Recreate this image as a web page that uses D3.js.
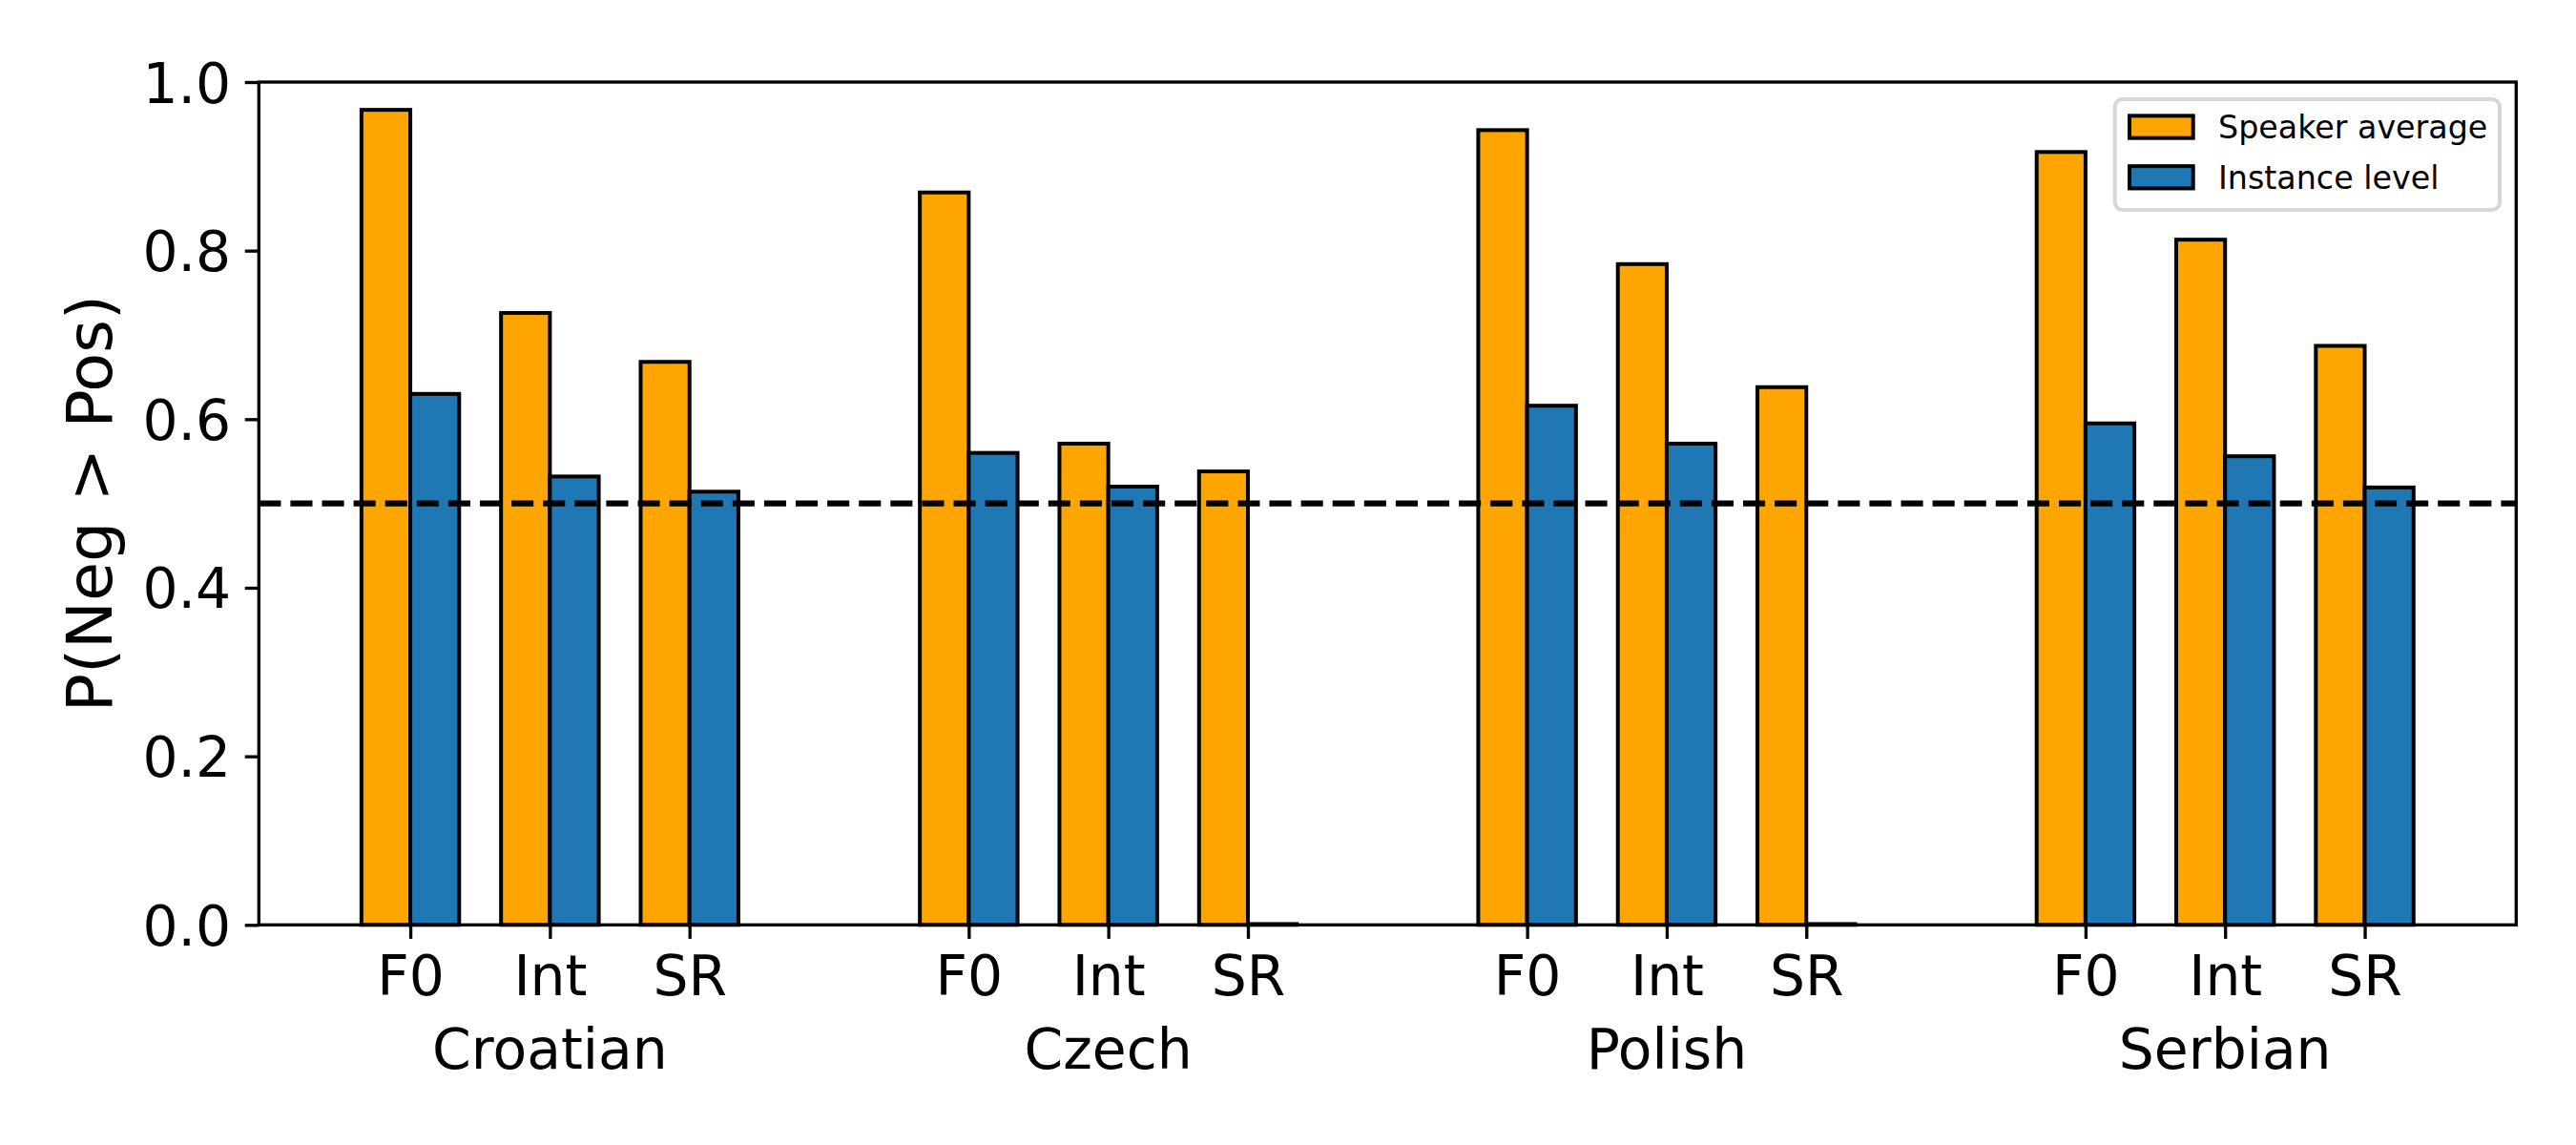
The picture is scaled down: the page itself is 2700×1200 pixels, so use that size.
<!DOCTYPE html>
<html>
<head>
<meta charset="utf-8">
<script src="https://cdn.jsdelivr.net/npm/d3@7"></script>
<style>
  html, body { margin: 0; padding: 0; background: #ffffff; }
  svg { display: block; font-family: "DejaVu Sans", sans-serif; }
</style>
</head>
<body>
<svg id="chart" width="2700" height="1200"></svg>
<script>
// ---- data ----
const languages = ["Croatian", "Czech", "Polish", "Serbian"];
const features = ["F0", "Int", "SR"];
const seriesNames = ["Speaker average", "Instance level"];
const speakerAverage = [0.967, 0.726, 0.668, 0.869, 0.571, 0.538, 0.943, 0.784, 0.638, 0.917, 0.813, 0.687];
const instanceLevel  = [0.630, 0.532, 0.514, 0.560, 0.520, 0.001, 0.616, 0.571, 0.001, 0.595, 0.556, 0.519];
const yTicks = [0.0, 0.2, 0.4, 0.6, 0.8, 1.0];
const chanceLevel = 0.5;
const yLabel = "P(Neg > Pos)";

// ---- layout ----
const colors = ["#FFA500", "#1f77b4"];
const plot = { left: 271.3, right: 2637.3, top: 86, bottom: 969.3 };
const barW = 0.35;
const groupStride = 4;

const svg = d3.select("#chart");
svg.append("rect").attr("width", 2700).attr("height", 1200).attr("fill", "#fff");

const positions = [];
languages.forEach((l, gi) => features.forEach((f, fi) => positions.push(gi * groupStride + fi)));
const xmin = d3.min(positions) - barW, xmax = d3.max(positions) + barW;
const margin = (xmax - xmin) * 0.05;

const x = d3.scaleLinear().domain([xmin - margin, xmax + margin]).range([plot.left, plot.right]);
const y = d3.scaleLinear().domain([0, 1]).range([plot.bottom, plot.top]);

const series = [speakerAverage, instanceLevel];

// bars
const g = svg.append("g");
series.forEach((vals, si) => {
  g.selectAll(null).data(vals).enter().append("rect")
    .attr("x", (d, i) => x(positions[i] + (si === 0 ? -barW : 0)))
    .attr("width", (d, i) => x(positions[i] + barW) - x(positions[i]))
    .attr("y", d => y(d))
    .attr("height", d => y(0) - y(d))
    .attr("fill", colors[si])
    .attr("stroke", "#000")
    .attr("stroke-width", 4);
});

// chance line
svg.append("line")
  .attr("x1", plot.left).attr("x2", plot.right)
  .attr("y1", y(chanceLevel)).attr("y2", y(chanceLevel))
  .attr("stroke", "#000").attr("stroke-width", 6.25)
  .attr("stroke-dasharray", "23.1,10");

// y axis
const yAxis = d3.axisLeft(y).tickValues(yTicks).tickFormat(d3.format(".1f"))
  .tickSize(14.6).tickPadding(14.6);
const yg = svg.append("g").attr("transform", `translate(${plot.left},0)`).call(yAxis);
yg.select(".domain").remove();
yg.selectAll(".tick line").attr("stroke", "#000").attr("stroke-width", 3.33);
yg.selectAll(".tick text").attr("font-size", 58.3).attr("fill", "#000")
  .attr("font-family", "DejaVu Sans").attr("dy", "0.36em");

// x axis (features)
const xAxis = d3.axisBottom(x).tickValues(positions)
  .tickFormat((d, i) => features[i % features.length])
  .tickSize(14.6).tickPadding(14.6);
const xg = svg.append("g").attr("transform", `translate(0,${plot.bottom})`).call(xAxis);
xg.select(".domain").remove();
xg.selectAll(".tick line").attr("stroke", "#000").attr("stroke-width", 3.33);
xg.selectAll(".tick text").attr("font-size", 58.3).attr("fill", "#000")
  .attr("font-family", "DejaVu Sans").attr("dy", "0.76em");

// group labels
svg.selectAll(null).data(languages).enter().append("text")
  .attr("x", (d, gi) => x(gi * groupStride + 1))
  .attr("y", 1120)
  .attr("text-anchor", "middle")
  .attr("font-size", 58.3)
  .attr("fill", "#000")
  .text(d => d);

// y label
svg.append("text")
  .attr("transform", `translate(117,${(plot.top + plot.bottom) / 2}) rotate(-90)`)
  .attr("text-anchor", "middle")
  .attr("font-size", 66.7)
  .attr("fill", "#000")
  .text(yLabel);

// spines
svg.append("rect")
  .attr("x", plot.left).attr("y", plot.top)
  .attr("width", plot.right - plot.left).attr("height", plot.bottom - plot.top)
  .attr("fill", "none").attr("stroke", "#000").attr("stroke-width", 3.33);

// legend
const leg = svg.append("g");
leg.append("rect")
  .attr("x", 2216.7).attr("y", 104).attr("width", 403.3).attr("height", 116)
  .attr("rx", 8).attr("ry", 8)
  .attr("fill", "#fff").attr("fill-opacity", 0.8)
  .attr("stroke", "#d6d6d6").attr("stroke-width", 4);
const legRows = [133, 185.8];
seriesNames.forEach((name, si) => {
  leg.append("rect")
    .attr("x", 2232).attr("y", legRows[si] - 11.65)
    .attr("width", 66.7).attr("height", 23.3)
    .attr("fill", colors[si]).attr("stroke", "#000").attr("stroke-width", 4);
  leg.append("text")
    .attr("x", 2325).attr("y", legRows[si] + 12)
    .attr("font-size", 33.3).attr("fill", "#000")
    .text(name);
});
</script>
</body>
</html>
